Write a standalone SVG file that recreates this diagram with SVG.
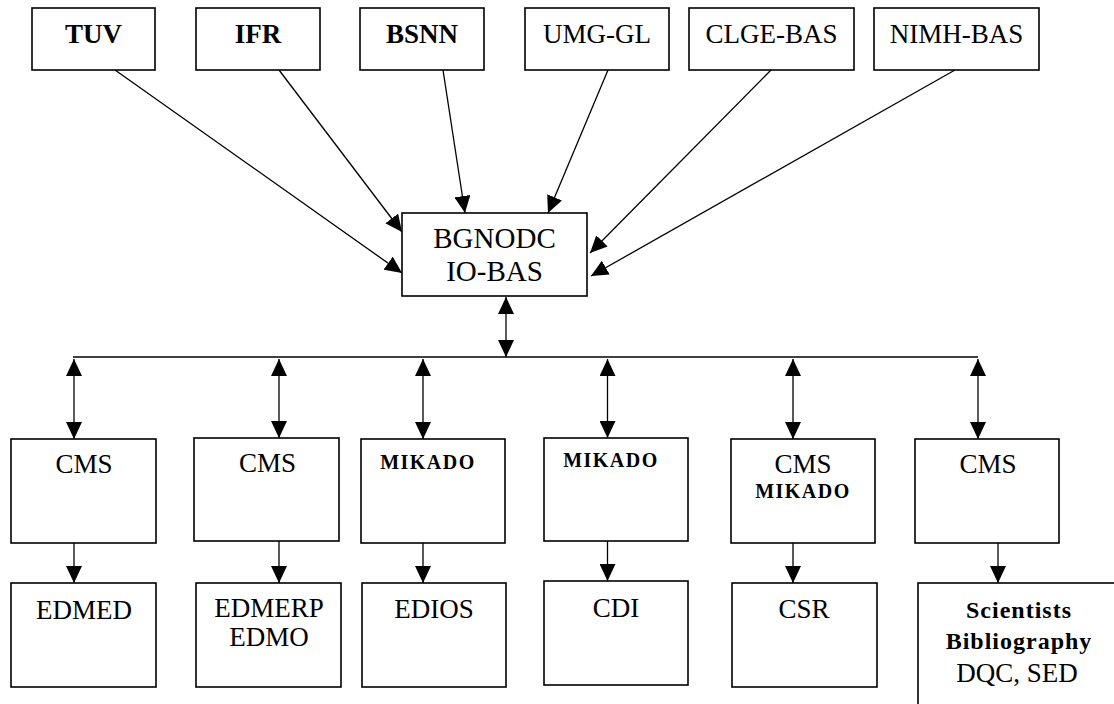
<svg xmlns="http://www.w3.org/2000/svg" width="1114" height="704" viewBox="0 0 1114 704">
<style>
.box{fill:#fff;stroke:#000;stroke-width:1.6}
text{font-family:'Liberation Serif','Times New Roman',serif;fill:#000;text-anchor:middle}
.t{font-size:27px}
.b{font-weight:bold}
.mk{font-size:20px;font-weight:bold;letter-spacing:1.5px}
.sb{font-size:24px;font-weight:bold;letter-spacing:1px}
.c{stroke:#000;stroke-width:1.3;fill:none}
.one{marker-end:url(#ah)}
.two{marker-start:url(#ah);marker-end:url(#ah)}
</style>
<defs>
<marker id="ah" markerUnits="userSpaceOnUse" viewBox="0 0 17 16" refX="17" refY="8" markerWidth="17" markerHeight="16" orient="auto-start-reverse">
<path d="M0,0 L17,8 L0,16 z" fill="#000"/>
</marker>
</defs>
<rect width="1114" height="704" fill="#fff"/>
<g id="connectors">
<line class="c one" x1="115" y1="70" x2="402" y2="273"/>
<line class="c one" x1="279" y1="70" x2="402" y2="232"/>
<line class="c one" x1="443" y1="70" x2="465" y2="213"/>
<line class="c one" x1="608" y1="70" x2="548" y2="213"/>
<line class="c one" x1="771" y1="70" x2="590" y2="253"/>
<line class="c one" x1="955" y1="70" x2="591" y2="276"/>
<line class="c two" x1="506" y1="297" x2="506" y2="357"/>
<line class="c" x1="73" y1="357" x2="978" y2="357"/>
<line class="c two" x1="74" y1="359" x2="74" y2="439"/>
<line class="c two" x1="279" y1="359" x2="279" y2="438"/>
<line class="c two" x1="423" y1="359" x2="423" y2="439"/>
<line class="c two" x1="607.5" y1="359" x2="607.5" y2="438"/>
<line class="c two" x1="793" y1="359" x2="793" y2="439"/>
<line class="c two" x1="978" y1="359" x2="978" y2="439"/>
<line class="c one" x1="74" y1="543" x2="74" y2="583"/>
<line class="c one" x1="279" y1="541" x2="279" y2="583"/>
<line class="c one" x1="423" y1="543" x2="423" y2="583"/>
<line class="c one" x1="607.5" y1="541" x2="607.5" y2="581"/>
<line class="c one" x1="793" y1="543" x2="793" y2="583"/>
<line class="c one" x1="998" y1="543" x2="998" y2="583"/>
</g>
<g id="tuv"><rect class="box" x="32" y="8" width="123" height="62"/><text class="t b" x="93.5" y="43">TUV</text></g>
<g id="ifr"><rect class="box" x="196" y="8" width="124" height="62"/><text class="t b" x="258" y="43">IFR</text></g>
<g id="bsnn"><rect class="box" x="360" y="8" width="124" height="62"/><text class="t b" x="422" y="43">BSNN</text></g>
<g id="umg-gl"><rect class="box" x="525" y="8" width="144" height="62"/><text class="t" x="597" y="43">UMG-GL</text></g>
<g id="clge-bas"><rect class="box" x="689" y="8" width="165" height="62"/><text class="t" x="771.5" y="43">CLGE-BAS</text></g>
<g id="nimh-bas"><rect class="box" x="874" y="8" width="165" height="62"/><text class="t" x="956.5" y="43">NIMH-BAS</text></g>
<g id="bgnodc"><rect class="box" x="402" y="213" width="185" height="83"/><text class="t" x="494.5" y="248" style="font-size:29px">BGNODC</text><text class="t" x="494.5" y="281" style="font-size:29px">IO-BAS</text></g>
<g id="cms1"><rect class="box" x="11" y="439" width="145" height="104"/><text class="t" x="84" y="473">CMS</text></g>
<g id="cms2"><rect class="box" x="194" y="438" width="145" height="103"/><text class="t" x="267.5" y="472">CMS</text></g>
<g id="mikado1"><rect class="box" x="361" y="439" width="144" height="104"/><text class="mk" x="428" y="469">MIKADO</text></g>
<g id="mikado2"><rect class="box" x="544" y="438" width="144" height="103"/><text class="mk" x="611" y="467">MIKADO</text></g>
<g id="cms-mikado"><rect class="box" x="731" y="439" width="144" height="104"/><text class="t" x="803" y="473">CMS</text><text class="mk" x="803" y="498">MIKADO</text></g>
<g id="cms6"><rect class="box" x="915" y="439" width="144" height="104"/><text class="t" x="988" y="473">CMS</text></g>
<g id="edmed"><rect class="box" x="11" y="583" width="145" height="104"/><text class="t" x="84" y="619">EDMED</text></g>
<g id="edmerp"><rect class="box" x="196" y="583" width="145" height="104"/><text class="t" x="269" y="617">EDMERP</text><text class="t" x="269" y="646">EDMO</text></g>
<g id="edios"><rect class="box" x="362" y="583" width="144" height="104"/><text class="t" x="434" y="618">EDIOS</text></g>
<g id="cdi"><rect class="box" x="544" y="581" width="144" height="104"/><text class="t" x="616" y="617">CDI</text></g>
<g id="csr"><rect class="box" x="732" y="583" width="145" height="104"/><text class="t" x="804" y="618">CSR</text></g>
<g id="scientists"><rect class="box" x="918" y="583" width="210" height="130"/><text class="sb" x="1019" y="618">Scientists</text><text class="sb" x="1019" y="649">Bibliography</text><text class="t" x="1017" y="682">DQC, SED</text></g>
</svg>
